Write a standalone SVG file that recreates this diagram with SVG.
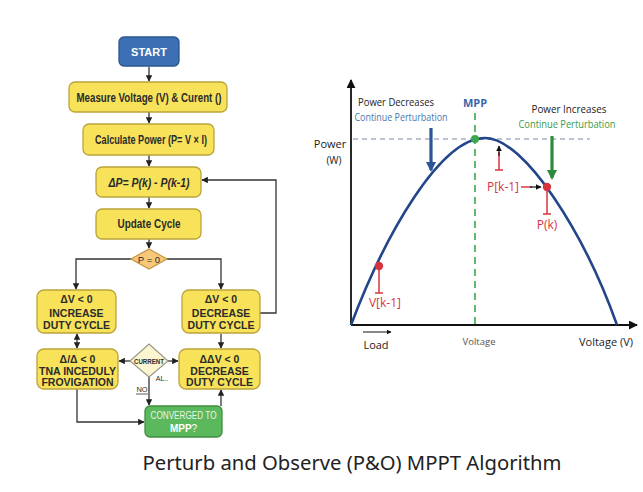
<svg xmlns="http://www.w3.org/2000/svg" width="643" height="492" viewBox="0 0 643 492">
<defs>
<style>
.box{fill:#f7e25a;stroke:#bba43c;stroke-width:1.3}
.ft{font-family:"Liberation Sans",Arial,sans-serif;font-weight:700;fill:#2b2b2b;text-anchor:middle}
.cn{stroke:#333;stroke-width:1.3;fill:none}
.ct{font-family:"Open Sans","Noto Sans",sans-serif;text-anchor:middle}
.red{stroke:#d8343f;stroke-width:1.5;fill:none}
</style>
<marker id="ah" viewBox="0 0 10 10" refX="9" refY="5" markerWidth="5" markerHeight="5" orient="auto-start-reverse"><path d="M0,0 L10,5 L0,10 z" fill="#222"/></marker>
<marker id="big" viewBox="0 0 10 10" refX="9" refY="5" markerWidth="5" markerHeight="5" orient="auto"><path d="M0,0 L10,5 L0,10 z" fill="#111"/></marker>
<marker id="bl" viewBox="0 0 10 10" refX="8" refY="5" markerWidth="3.2" markerHeight="3.2" orient="auto"><path d="M0,0 L10,5 L0,10 z" fill="#2c5597"/></marker>
<marker id="gr" viewBox="0 0 10 10" refX="8" refY="5" markerWidth="3.2" markerHeight="3.2" orient="auto"><path d="M0,0 L10,5 L0,10 z" fill="#2e8b3e"/></marker>
</defs>
<rect width="643" height="492" fill="#ffffff"/>

<g id="connectors">
<path class="cn" d="M149,67 V81" marker-end="url(#ah)"/>
<path class="cn" d="M149,112 V123" marker-end="url(#ah)"/>
<path class="cn" d="M149,155 V166" marker-end="url(#ah)"/>
<path class="cn" d="M149,197 V208" marker-end="url(#ah)"/>
<path class="cn" d="M149,239 V248" marker-end="url(#ah)"/>
<path class="cn" d="M132,259 H76 V289" marker-end="url(#ah)"/>
<path class="cn" d="M167,259 H221 V289" marker-end="url(#ah)"/>
<path class="cn" d="M260,313 H276 V180 H202" marker-end="url(#ah)"/>
<path class="cn" d="M77,334 V348" marker-start="url(#ah)" marker-end="url(#ah)"/>
<path class="cn" d="M221,334 V348" marker-end="url(#ah)"/>
<path class="cn" d="M130,361 H119" marker-end="url(#ah)"/>
<path class="cn" d="M168,361 H178" marker-end="url(#ah)"/>
<path class="cn" d="M149,377 V405" marker-end="url(#ah)"/>
<path class="cn" d="M77,389 V422 H144" marker-end="url(#ah)"/>
<path class="cn" d="M221,406 V390" marker-end="url(#ah)"/>
</g>

<g id="start"><rect x="119" y="37" width="60" height="29" rx="5" fill="#3d6fb4" stroke="#2d5590" stroke-width="1.3"/><text class="ft" x="149" y="56" font-size="11" style="fill:#fff">START</text></g>
<g id="measure"><rect class="box" x="69" y="82" width="158" height="30" rx="6"/><text class="ft" x="149" y="101.5" font-size="12" textLength="145" lengthAdjust="spacingAndGlyphs">Measure  Voltage (V) &amp; Curent ()</text></g>
<g id="calc"><rect class="box" x="83" y="124" width="131" height="31" rx="6"/><text class="ft" x="151" y="143.5" font-size="12" textLength="112" lengthAdjust="spacingAndGlyphs">Calculate Power (P= V × I)</text></g>
<g id="deltap"><rect class="box" x="96" y="167" width="105" height="30" rx="6"/><text class="ft" x="149" y="187" font-size="12" font-style="italic" textLength="81" lengthAdjust="spacingAndGlyphs">ΔP= P(k) - P(k-1)</text></g>
<g id="update"><rect class="box" x="96" y="209" width="105" height="30" rx="6"/><text class="ft" x="149" y="227.5" font-size="12" textLength="63" lengthAdjust="spacingAndGlyphs">Update Cycle</text></g>
<g id="p0"><path d="M149,249 L167,259 L149,269 L131,259 z" fill="#f7c87a" stroke="#c4963e" stroke-width="1.2"/><text class="ft" x="149" y="262.5" font-size="9.5" style="font-weight:400">P = 0</text></g>
<g id="inc"><rect class="box" x="37" y="290" width="79" height="43" rx="7"/><text class="ft" font-size="10.5"><tspan x="76.5" y="303">ΔV &lt; 0</tspan><tspan x="76.5" y="317">INCREASE</tspan><tspan x="76.5" y="328.5">DUTY CYCLE</tspan></text></g>
<g id="dec"><rect class="box" x="182" y="290" width="78" height="43" rx="7"/><text class="ft" font-size="10.5"><tspan x="221" y="303">ΔV &lt; 0</tspan><tspan x="221" y="317">DECREASE</tspan><tspan x="221" y="328.5">DUTY CYCLE</tspan></text></g>
<g id="tna"><rect class="box" x="37" y="349" width="81" height="40" rx="7"/><text class="ft" font-size="10.5"><tspan x="77.5" y="363">Δ/Δ  &lt; 0</tspan><tspan x="77.5" y="375">TNA INCEDULY</tspan><tspan x="77.5" y="386">FROVIGATION</tspan></text></g>
<g id="dec2"><rect class="box" x="179" y="349" width="81" height="40" rx="7"/><text class="ft" font-size="10.5"><tspan x="219.5" y="363">ΔΔV &lt; 0</tspan><tspan x="219.5" y="375">DECREASE</tspan><tspan x="219.5" y="386">DUTY CYCLE</tspan></text></g>
<g id="current"><path d="M149,344 L168,361 L149,377 L130,361 z" fill="#fbf6cf" stroke="#9a9a8a" stroke-width="1.2"/><text class="ft" x="149" y="364" font-size="7" textLength="30" lengthAdjust="spacingAndGlyphs">CURRENT</text>
<text class="ft" x="162" y="381" font-size="7" style="font-weight:400">AL..</text>
<text class="ft" x="142" y="392" font-size="7.5" style="font-weight:400">NO</text><path d="M136,394 H148" stroke="#333" stroke-width="0.8"/></g>
<g id="converged"><rect x="145" y="406" width="77" height="31" rx="5" fill="#5cb85c" stroke="#3f8f3f" stroke-width="1.3"/><text class="ft" font-size="10"><tspan x="183.5" y="419" style="fill:#eaf5e5;font-weight:400" textLength="66" lengthAdjust="spacingAndGlyphs">CONVERGED TO</tspan><tspan x="183.5" y="432" style="fill:#fff">MPP<tspan style="font-weight:400">?</tspan></tspan></text></g>

<g id="chart">
<path d="M351,325 V80" stroke="#111" stroke-width="1.8" marker-end="url(#big)"/>
<path d="M351,325 H637" stroke="#111" stroke-width="1.8" marker-end="url(#big)"/>
<path d="M353,139 H590" stroke="#7b8aa8" stroke-width="1.2" stroke-dasharray="5,4"/>
<path d="M475,113 V325" stroke="#3aa74a" stroke-width="1.6" stroke-dasharray="7,5"/>
<path d="M351,325 C385,235 440,138 485,138 C525,138 585,235 617,325" fill="none" stroke="#23468a" stroke-width="2.6"/>
<circle cx="475" cy="139" r="4" fill="#3aa74a"/>
<path d="M431,128 V170" stroke="#2c5597" stroke-width="3.2" marker-end="url(#bl)"/>
<path d="M552,136 V178" stroke="#2e8b3e" stroke-width="3.2" marker-end="url(#gr)"/>
<path class="red" d="M499,152 V170 M495,170 H503"/>
<path d="M499,156 V146" stroke="#111" stroke-width="1.2" marker-end="url(#big)"/>
<path class="red" d="M521,187 H532"/>
<path d="M530,187 H541" stroke="#111" stroke-width="1.2" marker-end="url(#big)"/>
<circle cx="547" cy="187" r="4.2" fill="#d8343f"/>
<path class="red" d="M547,190 V214 M543,214 H551"/>
<circle cx="379" cy="266" r="4.2" fill="#d8343f"/>
<path class="red" d="M379,269 V293 M375,293 H383"/>
<text class="ct" x="396" y="106" font-size="10.5" fill="#222" textLength="76" lengthAdjust="spacingAndGlyphs">Power Decreases</text>
<text class="ct" x="401" y="120.5" font-size="10" fill="#4a78b0" textLength="93" lengthAdjust="spacingAndGlyphs">Continue Perturbation</text>
<text class="ct" x="475" y="107" font-size="11" font-weight="700" fill="#3a66a8">MPP</text>
<text class="ct" x="569" y="113" font-size="10.5" fill="#222" textLength="75" lengthAdjust="spacingAndGlyphs">Power Increases</text>
<text class="ct" x="567" y="128" font-size="10" fill="#3a9a4a" textLength="97" lengthAdjust="spacingAndGlyphs">Continue Perturbation</text>
<text class="ct" x="330" y="148" font-size="11" fill="#222">Power</text>
<text class="ct" x="334" y="164" font-size="10" fill="#222">(W)</text>
<text class="ct" x="503" y="191" font-size="12" fill="#d8343f">P[k-1]</text>
<text class="ct" x="547" y="229" font-size="12" fill="#d8343f">P(k)</text>
<text class="ct" x="385" y="307" font-size="12" fill="#d8343f">V[k-1]</text>
<path d="M363,332 H391" stroke="#111" stroke-width="1" marker-end="url(#big)"/>
<text class="ct" x="376" y="349" font-size="11" fill="#222">Load</text>
<text class="ct" x="479" y="345" font-size="9.5" fill="#555">Voltage</text>
<text class="ct" x="606" y="346" font-size="11" fill="#222">Voltage (V)</text>
</g>

<text x="352" y="470" font-family="'Noto Sans','Open Sans',sans-serif" font-size="19" fill="#222" text-anchor="middle" textLength="419" lengthAdjust="spacingAndGlyphs">Perturb and Observe (P&amp;O) MPPT Algorithm</text>
</svg>
